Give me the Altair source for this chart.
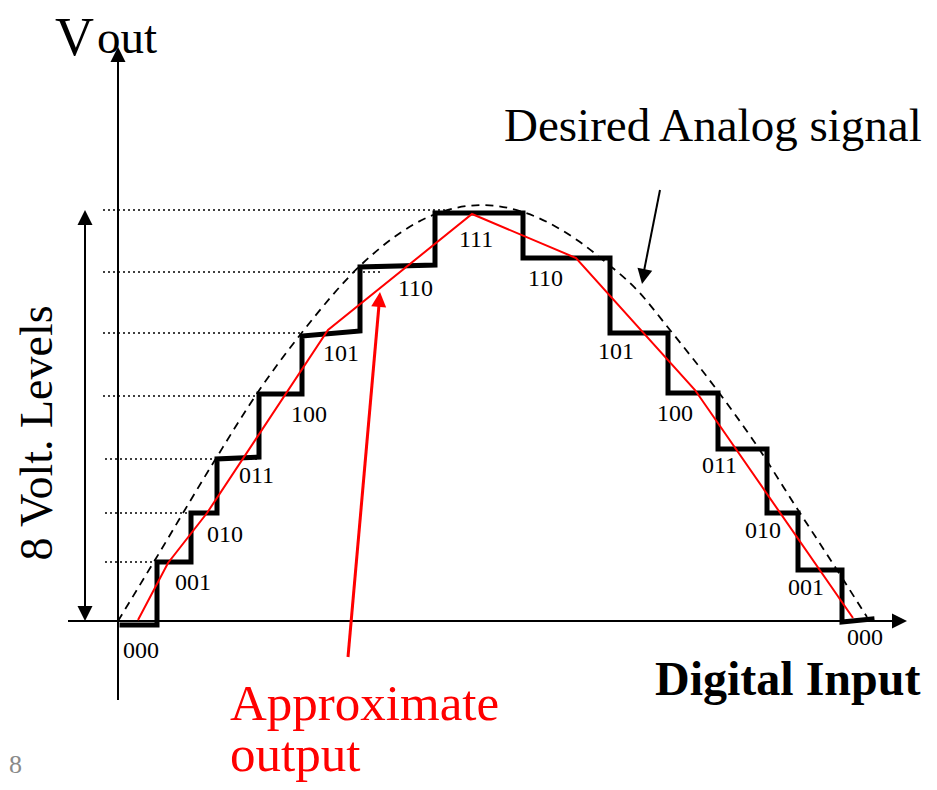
import altair as alt
import pandas as pd

# ---- coordinate frame: x = input units right of the Vout axis, y = output units above the baseline
X0, Y0 = 118, 621  # used only to convert the readings below

# Staircase DAC output (pixel readings)
stair_px = [122, 157, 157, 191, 191, 217, 217, 259, 259, 302, 302, 360, 360, 435, 435,
            523, 523, 610, 610, 668, 668, 718, 718, 767, 767, 798, 798, 842, 842, 872]
stair_py = [625, 625, 562, 562, 513, 513, 459, 457, 394, 394, 336, 331, 267, 265, 213,
            213, 258, 258, 333, 333, 393, 393, 449, 449, 513, 513, 570, 570, 622, 619]

# Approximate output (red polyline)
red_px = [138, 168, 207, 328, 472, 576, 695, 853]
red_py = [620, 563, 513, 330, 214, 258, 390, 618]

# Desired analog signal (dashed)
ana_px = [118, 155, 215, 258, 300, 363, 433, 483, 523, 577, 603, 637, 670, 717, 753, 800, 837, 867]
ana_py = [621, 560, 460, 392, 335, 263, 215, 205, 212, 240, 260, 290, 330, 390, 440, 513, 570, 617]

# Voltage levels (dotted guides)
lvl_py = [210, 272, 333, 396, 459, 513, 562]
lvl_x1 = [103, 103, 103, 103, 105, 105, 105]
lvl_x2 = [450, 380, 300, 260, 260, 220, 155]

# Code labels
code_txt = ["000", "001", "010", "011", "100", "101", "110", "111",
            "110", "101", "100", "011", "010", "001", "000"]
code_px = [123, 175, 207, 239, 291, 323, 398, 459, 528, 598, 657, 702, 745, 788, 847]
code_py = [658, 590, 542, 483, 422, 361, 296, 247, 286, 359, 421, 473, 538, 595, 645]

# Rules: axes, double arrow, annotation arrow shafts
rule_name = ["vaxis", "haxis", "levels", "black_ptr", "red_ptr"]
rule_px1 = [118, 68, 85, 660, 348]
rule_py1 = [700, 621, 218, 190, 657]
rule_px2 = [118, 895, 85, 643, 379]
rule_py2 = [60, 621, 612, 276, 305]
rule_col = ["black", "black", "black", "black", "red"]
rule_w = [2, 2, 2, 2, 3]

# Arrow heads (tip positions, direction in degrees clockwise from up)
head_px = [118, 907, 85, 85, 642, 380]
head_py = [47, 621, 210, 621, 284, 292]
head_ang = [0, 90, 0, 180, 191, 5]
head_col = ["black", "black", "black", "black", "black", "red"]

# Texts
txt = ["V", "out", "Desired Analog signal", "Digital Input", "Approximate", "output", "8"]
txt_px = [55, 97, 504, 655, 230, 230, 9]
txt_py = [55, 53, 141, 695, 720, 771, 773]
txt_size = [54, 47, 47, 48, 51, 51, 26]
txt_col = ["black", "black", "black", "black", "red", "red", "#8a8a8a"]
txt_weight = ["normal", "normal", "normal", "bold", "normal", "normal", "normal"]


def cx(v):
    return [p - X0 for p in v]


def cy(v):
    return [Y0 - p for p in v]


W, H = 921, 774
xs = alt.Scale(domain=[8 - X0, 8 - X0 + W], nice=False, zero=False)
ys = alt.Scale(domain=[Y0 - 8 - H, Y0 - 8], nice=False, zero=False)
FONT = "Liberation Serif"

stair_df = pd.DataFrame({"x": cx(stair_px), "y": cy(stair_py), "i": range(len(stair_px))})
red_df = pd.DataFrame({"x": cx(red_px), "y": cy(red_py), "i": range(len(red_px))})
ana_df = pd.DataFrame({"x": cx(ana_px), "y": cy(ana_py), "i": range(len(ana_px))})
lvl_df = pd.DataFrame({"x": cx(lvl_x1), "x2": cx(lvl_x2), "y": cy(lvl_py)})
code_df = pd.DataFrame({"t": code_txt, "x": cx(code_px), "y": cy(code_py)})
rule_df = pd.DataFrame({"n": rule_name, "x": cx(rule_px1), "y": cy(rule_py1),
                        "x2": cx(rule_px2), "y2": cy(rule_py2), "c": rule_col, "w": rule_w})
head_df = pd.DataFrame({"x": cx(head_px), "y": cy(head_py), "a": head_ang, "c": head_col})
txt_df = pd.DataFrame({"t": txt, "x": cx(txt_px), "y": cy(txt_py), "s": txt_size,
                       "c": txt_col, "w": txt_weight})


def X(f="x"):
    return alt.X(f"{f}:Q", scale=xs, axis=None)


def Y(f="y"):
    return alt.Y(f"{f}:Q", scale=ys, axis=None)


levels = alt.Chart(lvl_df).mark_rule(color="black", strokeWidth=1.6, strokeDash=[2, 3]).encode(
    x=X(), x2="x2:Q", y=Y())

analog = alt.Chart(ana_df).mark_line(color="black", strokeWidth=1.8, strokeDash=[8, 6],
                                     interpolate="monotone").encode(x=X(), y=Y(), order="i:Q")

rules = alt.Chart(rule_df).mark_rule().encode(
    x=X(), y=Y(), x2="x2:Q", y2="y2:Q",
    color=alt.Color("c:N", scale=None), strokeWidth=alt.StrokeWidth("w:Q", scale=None))

stairs = alt.Chart(stair_df).mark_line(color="black", strokeWidth=5, strokeJoin="miter",
                                       strokeCap="square").encode(x=X(), y=Y(), order="i:Q")

red = alt.Chart(red_df).mark_line(color="#ff0000", strokeWidth=2).encode(x=X(), y=Y(), order="i:Q")

heads = alt.Chart(head_df).mark_point(shape="M0,0L-1,2L1,2Z", size=225, filled=True,
                                      opacity=1, strokeWidth=0).encode(
    x=X(), y=Y(), angle=alt.Angle("a:Q", scale=None), color=alt.Color("c:N", scale=None))

codes = alt.Chart(code_df).mark_text(font=FONT, fontSize=24, align="left", baseline="alphabetic",
                                     color="black").encode(x=X(), y=Y(), text="t:N")

plain_df = txt_df[txt_df.w == "normal"]
bold_df = txt_df[txt_df.w == "bold"]

texts_plain = alt.Chart(plain_df).mark_text(
    font=FONT, baseline="alphabetic", align="left").encode(
    x=X(), y=Y(), text="t:N", size=alt.Size("s:Q", scale=None), color=alt.Color("c:N", scale=None))
texts_bold = alt.Chart(bold_df).mark_text(
    font=FONT, baseline="alphabetic", align="left", fontWeight="bold").encode(
    x=X(), y=Y(), text="t:N", size=alt.Size("s:Q", scale=None), color=alt.Color("c:N", scale=None))

side_df = pd.DataFrame({"t": ["8 Volt. Levels"], "x": cx([52]), "y": cy([433])})
side = alt.Chart(side_df).mark_text(font=FONT, fontSize=46, angle=270, align="center",
                                    baseline="alphabetic", color="black").encode(
    x=X(), y=Y(), text="t:N")

chart = alt.layer(levels, analog, rules, stairs, red, heads, codes,
                  texts_plain, texts_bold, side).properties(
    width=W, height=H, padding=0, autosize=alt.AutoSizeParams(type="none"),
    background="white"
).configure_view(stroke=None)

chart.save("out.html", embed_options={"renderer": "svg", "actions": False})
